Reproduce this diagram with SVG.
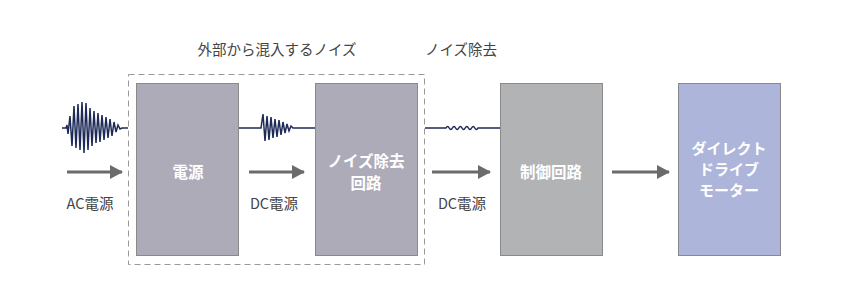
<svg xmlns="http://www.w3.org/2000/svg" width="843" height="308" viewBox="0 0 843 308">
<defs>
<style>
.lbl{font-family:"Noto Sans CJK JP","Noto Sans",sans-serif;font-size:14.5px;fill:#444;text-anchor:middle}
.bt{font-family:"Noto Sans CJK JP","Noto Sans",sans-serif;font-size:15.5px;font-weight:bold;fill:#fff;text-anchor:middle}
.bt2{font-size:15px}
.box{stroke:#8a8a8a;stroke-width:1}
.arr{stroke:#6b6b6b;stroke-width:3;fill:none}
.wave{stroke:#1e2a57;stroke-width:1.5;fill:none;stroke-linejoin:miter}
</style>
<marker id="ah" markerWidth="13" markerHeight="14" refX="12" refY="7" orient="auto" markerUnits="userSpaceOnUse">
<path d="M0,0 L13,7 L0,14 Z" fill="#6b6b6b"/>
</marker>
</defs>
<rect width="843" height="308" fill="#fff"/>
<rect x="128.5" y="74.5" width="296" height="190" fill="none" stroke="#999" stroke-width="1" stroke-dasharray="6,4"/>
<g id="connectors">
<line class="arr" x1="67" y1="172" x2="122" y2="172" marker-end="url(#ah)"/>
<line class="arr" x1="249" y1="172" x2="304" y2="172" marker-end="url(#ah)"/>
<line class="arr" x1="432" y1="172" x2="490" y2="172" marker-end="url(#ah)"/>
<line class="arr" x1="612" y1="172" x2="669" y2="172" marker-end="url(#ah)"/>
<path class="wave" d="M62,128 L66,128 L67,125 L68,134 L70,116 L72,146 L74,106 L76,148 L78,104 L80,150 L82,102 L84,153 L86,103 L88,150 L90,108 L92,146 L94,111 L96,143 L98,113 L100,142 L102,115 L104,140 L106,117 L108,138 L110,119 L112,136 L114,122 L116,132 L118,125 L120,129 L122,128 L128,128"/>
<path class="wave" d="M239,128 L261,128 L263,114 L265,141 L267,116 L269,140 L271,117 L273,138 L275,119 L277,137 L279,120 L281,135 L283,122 L285,133 L287,124 L289,131 L291,126 L293,128 L315,128"/>
<path class="wave" d="M425,128 L446,128 q1.6,-3 3.2,0 t3.2,0 t3.2,0 t3.2,0 t3.2,0 t3.2,0 t3.2,0 t3.2,0 t3.2,0 t3.2,0 L500,128"/>
</g>
<g id="n-ac"><text class="lbl" x="90" y="209">AC電源</text></g>
<g id="n-dc1"><text class="lbl" x="274" y="209">DC電源</text></g>
<g id="n-dc2"><text class="lbl" x="462" y="209">DC電源</text></g>
<g id="n-noise-in"><text class="lbl" x="277" y="55">外部から混入するノイズ</text></g>
<g id="n-noise-out"><text class="lbl" x="461" y="55">ノイズ除去</text></g>
<g id="n-power">
<rect class="box" x="136.5" y="83.5" width="102" height="172" fill="#aeabb9"/>
<text class="bt" x="188" y="178">電源</text>
</g>
<g id="n-filter">
<rect class="box" x="315.5" y="83.5" width="102" height="172" fill="#aeabb9"/>
<text class="bt" x="366" y="167">ノイズ除去</text>
<text class="bt" x="366" y="189">回路</text>
</g>
<g id="n-control">
<rect class="box" x="500.5" y="83.5" width="102" height="172" fill="#b1b3b4"/>
<text class="bt" x="551" y="178">制御回路</text>
</g>
<g id="n-motor">
<rect class="box" x="678.5" y="83.5" width="102" height="172" fill="#adb5db"/>
<text class="bt bt2" x="729" y="154">ダイレクト</text>
<text class="bt bt2" x="729" y="175">ドライブ</text>
<text class="bt bt2" x="729" y="196">モーター</text>
</g>
</svg>
